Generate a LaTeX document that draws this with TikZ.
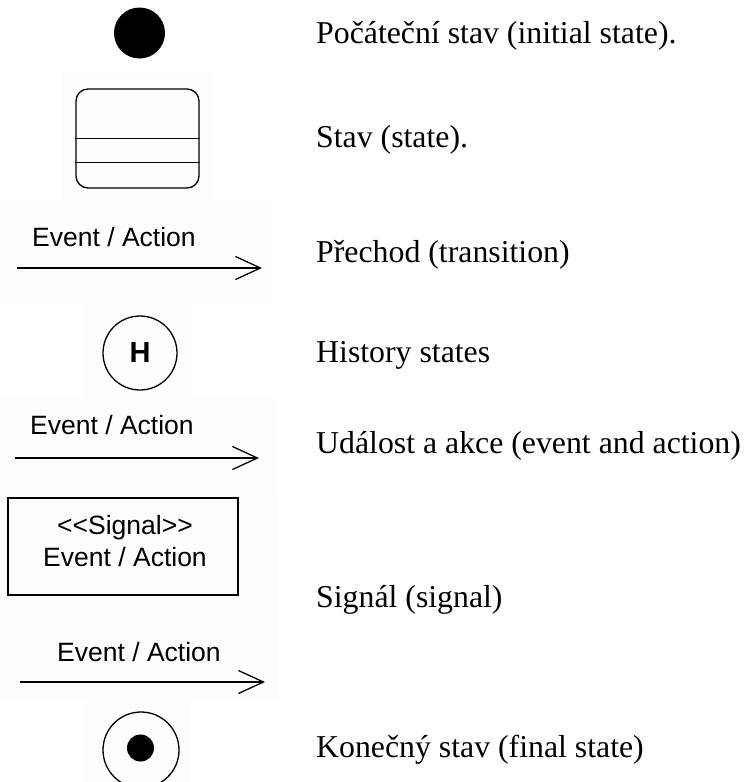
\documentclass[tikz,border=0pt]{standalone}
\usepackage{fontspec}
\setmainfont{Liberation Serif}
\newfontfamily\uisans{Liberation Sans}
\usetikzlibrary{arrows.meta,calc}

\tikzset{
  umlline/.style={line width=1.3pt},
  trans/.style={umlline,-{Straight Barb[length=25pt,width=23pt,line width=1.3pt]}},
  evlabel/.style={anchor=base west,inner sep=0pt,font=\uisans\fontsize{26.5}{30}\selectfont},
  desc/.style={anchor=base west,inner sep=0pt,font=\fontsize{31.8}{36}\selectfont},
  panel/.style={fill=black!0.8,draw=none}
}

\begin{document}
\begin{tikzpicture}[x=1pt,y=-1pt]
  \useasboundingbox (0,0) rectangle (747,782);

  % faint backgrounds of the pasted symbols
  \fill[panel] (62,72) rectangle (213,200);
  \fill[panel] (0,200) rectangle (272,303);
  \fill[panel] (83,303) rectangle (192,398);
  \fill[panel] (0,398) rectangle (275,490);
  \fill[panel] (0,490) rectangle (278,600);
  \fill[panel] (0,600) rectangle (278,700);
  \fill[panel] (85,700) rectangle (190,782);

  % initial state
  \node[circle,fill=black,minimum size=51pt,inner sep=0pt] (init) at (139.5,33) {};

  % state
  \node[draw,umlline,rounded corners=12pt,minimum width=123pt,minimum height=99pt,inner sep=0pt]
        (state) at (137.5,138.5) {};
  \draw[umlline] ($(state.north west)+(0,50)$) -- ($(state.north east)+(0,50)$);
  \draw[umlline] ($(state.north west)+(0,74)$) -- ($(state.north east)+(0,74)$);

  % transition
  \coordinate (t1s) at (17,268);
  \coordinate (t1e) at (262,268);
  \draw[trans] (t1s) -- (t1e);
  \node[evlabel] (t1lab) at (32,246) {Event / Action};

  % history state
  \node[circle,draw,umlline,minimum size=74pt,inner sep=0pt,
        font=\uisans\bfseries\fontsize{29}{32}\selectfont] (hist) at (140,353) {H};

  % event and action
  \coordinate (t2s) at (15,458);
  \coordinate (t2e) at (259,458);
  \draw[trans] (t2s) -- (t2e);
  \node[evlabel] (t2lab) at (30,434) {Event / Action};

  % signal
  \node[draw,umlline,minimum width=230pt,minimum height=97pt,inner sep=0pt] (signal) at (123,546.5) {};
  \node[evlabel,anchor=base] (sigtop) at (125,534) {<\kern0pt<Signal>\kern0pt>};
  \node[evlabel,anchor=base] (sigbot) at (125,566) {Event / Action};

  \coordinate (t3s) at (20,682);
  \coordinate (t3e) at (265,682);
  \draw[trans] (t3s) -- (t3e);
  \node[evlabel] (t3lab) at (57,661) {Event / Action};

  % final state
  \node[circle,draw,umlline,minimum size=76pt,inner sep=0pt] (final) at (141,750) {};
  \node[circle,fill=black,minimum size=27pt,inner sep=0pt] (finaldot) at (140.5,748) {};

  % descriptions
  \node[desc] (dinit)  at (316,43)  {Počáteční stav (initial state).};
  \node[desc] (dstate) at (316,147) {Stav (state).};
  \node[desc] (dtrans) at (316,262) {Přechod (transition)};
  \node[desc] (dhist)  at (316,362) {History states};
  \node[desc] (devent) at (316,453) {Událost a akce (event and action)};
  \node[desc] (dsig)   at (316,607) {Signál (signal)};
  \node[desc] (dfinal) at (316,757) {Konečný stav (final state)};
\end{tikzpicture}
\end{document}
